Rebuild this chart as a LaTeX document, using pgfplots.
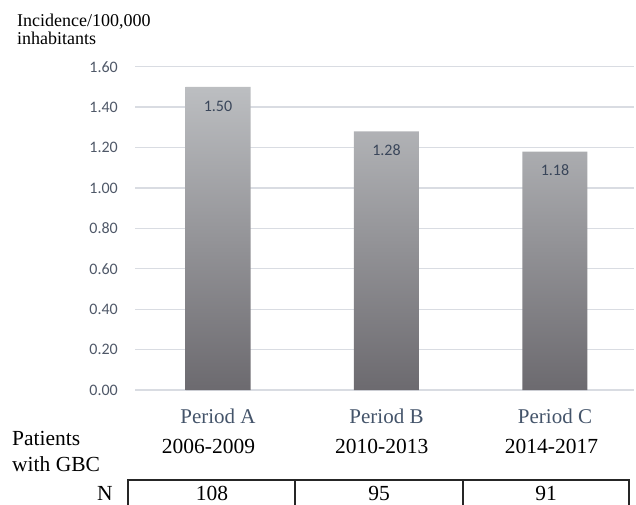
\documentclass[border=0pt]{standalone}
\usepackage{pgfplots}
\pgfplotsset{compat=1.18}
\usepackage{fontspec}
\setmainfont{Liberation Serif}
\newfontfamily\calibri{Carlito}

\definecolor{gridc}{HTML}{D9DCE2}
\definecolor{tickc}{HTML}{4F5868}
\definecolor{valc}{HTML}{3A465A}
\definecolor{periodc}{HTML}{44546A}
\definecolor{bartop}{HTML}{BCBEC1}
\definecolor{barbot}{HTML}{6C6A6F}

\begin{document}
\begin{tikzpicture}[x=1pt,y=1pt]
\path[use as bounding box] (0,0) rectangle (636,504);

% y-axis title
\node[anchor=base west, inner sep=0, font=\fontsize{18}{20}\selectfont] at (17,477) {Incidence/100,000};
\node[anchor=base west, inner sep=0, font=\fontsize{18}{20}\selectfont] at (17,459) {inhabitants};

\begin{axis}[
  at={(135pt,114pt)}, anchor=south west,
  scale only axis, width=499pt, height=323.3pt,
  ymin=0, ymax=1.6, ytick={0,0.2,...,1.6},
  xmin=-0.4926, xmax=2.469,
  xtick={0,1,2}, xticklabels={Period A,Period B,Period C},
  axis line style={draw=none}, tick style={draw=none},
  ymajorgrids, grid style={gridc, line width=1.3pt},
  /pgf/number format/assume math mode=true,
  yticklabel={\pgfmathprintnumber[fixed,fixed zerofill,precision=2]{\tick}},
  yticklabel style={font=\calibri\fontsize{16}{16}\selectfont, color=tickc, anchor=east, inner sep=0pt, xshift=-17pt},
  xticklabel style={font=\fontsize{21}{22}\selectfont, color=periodc, anchor=base, inner sep=0pt, yshift=-33pt},
  clip=false,
]
\addplot[ybar, bar width=65pt, draw=none, top color=bartop, bottom color=barbot,
  nodes near coords={\pgfmathprintnumber[fixed,fixed zerofill,precision=2]{\pgfplotspointmeta}},
  every node near coord/.append style={font=\calibri\fontsize{16}{16}\selectfont, color=valc, anchor=center, yshift=-19pt}]
  coordinates {(0,1.50) (1,1.28) (2,1.18)};
\end{axis}

% period years
\foreach \cx/\yr in {208.5/2006-2009, 381.7/2010-2013, 551.5/2014-2017}
  \node[anchor=base, inner sep=0, font=\fontsize{21.5}{22}\selectfont] at (\cx,51) {\yr};

\node[anchor=base west, inner sep=0, font=\fontsize{21.5}{22}\selectfont] at (12,59) {Patients};
\node[anchor=base west, inner sep=0, font=\fontsize{21.5}{22}\selectfont] at (12,33) {with GBC};

% patient count table
\draw[line width=1.4pt, color=black!85] (128,-6) rectangle (629,24);
\draw[line width=1.4pt, color=black!85] (295,-6) -- (295,24) (463,-6) -- (463,24);
\node[anchor=base, inner sep=0, font=\fontsize{21.5}{22}\selectfont] at (105,4) {N};
\foreach \cx/\n in {212/108, 379/95, 546/91}
  \node[anchor=base, inner sep=0, font=\fontsize{21.5}{22}\selectfont] at (\cx,4) {\n};
\end{tikzpicture}
\end{document}
